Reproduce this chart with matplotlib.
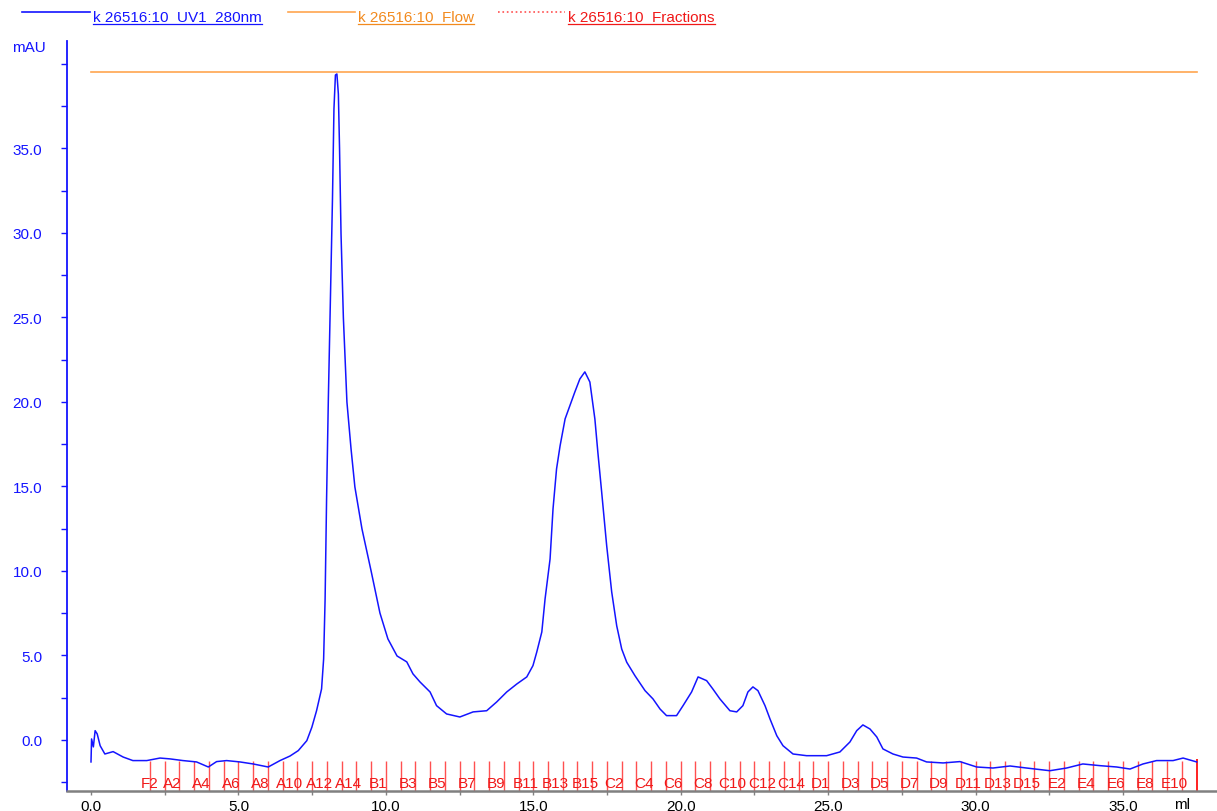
import matplotlib
matplotlib.use("Agg")
import matplotlib.pyplot as plt
from matplotlib.lines import Line2D

plt.rcParams['font.family'] = ['Liberation Sans', 'DejaVu Sans']

# ---------------- data ----------------
uv_ml = [0.00, 0.02, 0.08, 0.14, 0.21, 0.31, 0.47, 0.75, 1.09, 1.42, 1.89, 2.34, 2.68, 3.12,
         3.58, 3.98, 4.26, 4.60, 5.05, 5.50, 6.01, 6.41, 6.75, 7.03, 7.32, 7.49, 7.65, 7.82,
         7.89, 7.94, 7.99, 8.05, 8.12, 8.19, 8.24, 8.29, 8.34, 8.39, 8.43, 8.48, 8.56, 8.68,
         8.82, 8.95, 9.19, 9.50, 9.80, 10.07, 10.38, 10.71, 10.92, 11.16, 11.50, 11.72, 12.06,
         12.51, 12.96, 13.42, 13.76, 14.10, 14.44, 14.78, 14.99, 15.12, 15.29, 15.40, 15.57,
         15.67, 15.79, 15.91, 16.08, 16.24, 16.41, 16.58, 16.75, 16.92, 17.09, 17.19, 17.32,
         17.49, 17.66, 17.83, 18.00, 18.17, 18.45, 18.79, 19.06, 19.30, 19.52, 19.86, 20.08,
         20.37, 20.59, 20.88, 21.09, 21.33, 21.67, 21.90, 22.11, 22.28, 22.45, 22.62, 22.86,
         23.03, 23.26, 23.47, 23.81, 24.27, 24.95, 25.40, 25.74, 25.97, 26.18, 26.42, 26.65,
         26.86, 27.20, 27.54, 28.00, 28.34, 28.90, 29.47, 30.04, 30.59, 31.17, 31.73, 32.52,
         33.09, 33.64, 34.22, 34.79, 35.24, 35.68, 36.14, 36.70, 37.04, 37.50]
uv_mau = [-1.30, 0.06, -0.41, 0.55, 0.36, -0.34, -0.83, -0.69, -1.01, -1.22, -1.22, -1.07,
          -1.12, -1.22, -1.30, -1.60, -1.28, -1.22, -1.30, -1.42, -1.60, -1.22, -0.95, -0.63,
          -0.04, 0.75, 1.73, 3.02, 4.79, 8.34, 14.26, 20.18, 26.09, 32.01, 37.34, 39.35, 39.41,
          38.22, 34.97, 29.94, 24.97, 20.00, 17.22, 14.97, 12.49, 10.00, 7.51, 5.98, 4.97,
          4.62, 3.91, 3.43, 2.84, 2.03, 1.54, 1.36, 1.66, 1.73, 2.25, 2.84, 3.31, 3.73, 4.40,
          5.21, 6.39, 8.34, 10.71, 13.67, 16.04, 17.41, 19.00, 19.78, 20.59, 21.36, 21.78,
          21.18, 18.99, 17.04, 14.67, 11.50, 8.76, 6.76, 5.38, 4.60, 3.80, 2.92, 2.43, 1.83,
          1.44, 1.44, 2.03, 2.84, 3.73, 3.51, 3.02, 2.43, 1.73, 1.66, 2.03, 2.84, 3.14, 2.92,
          2.03, 1.24, 0.25, -0.34, -0.83, -0.93, -0.93, -0.71, -0.12, 0.55, 0.89, 0.65, 0.18,
          -0.53, -0.83, -1.01, -1.07, -1.30, -1.36, -1.28, -1.60, -1.66, -1.54, -1.66, -1.82,
          -1.66, -1.42, -1.52, -1.60, -1.72, -1.42, -1.22, -1.22, -1.07, -1.30]

flow_ml = [0.0, 37.5]
flow_level = [39.5, 39.5]

frac_ml = [2.0, 2.5, 3.0, 3.5, 4.0, 4.5, 5.0, 5.5, 6.0, 6.5, 7.0, 7.5, 8.0, 8.5, 9.0, 9.5,
           10.0, 10.5, 11.0, 11.5, 12.0, 12.5, 13.0, 13.5, 14.0, 14.5, 15.0, 15.5, 16.0, 16.5,
           17.0, 17.5, 18.0, 18.5, 19.0, 19.5, 20.0, 20.5, 21.0, 21.5, 22.0, 22.5, 23.0, 23.5,
           24.0, 24.5, 25.0, 25.5, 26.0, 26.5, 27.0, 27.5, 28.0, 28.5, 29.0, 29.5, 30.0, 30.5,
           31.0, 31.5, 32.0, 32.5, 33.0, 33.5, 34.0, 34.5, 35.0, 35.5, 36.0, 36.5, 37.0]
frac_names = (["F2"] + ["A%d" % i for i in range(1, 16)] + ["B%d" % i for i in range(1, 16)]
              + ["C%d" % i for i in range(1, 16)] + ["D%d" % i for i in range(1, 16)]
              + ["E%d" % i for i in range(1, 11)])
frac_end = 37.5

x_major = [0.0, 5.0, 10.0, 15.0, 20.0, 25.0, 30.0, 35.0]
y_major = [0.0, 5.0, 10.0, 15.0, 20.0, 25.0, 30.0, 35.0]

legend_labels = ["k 26516:10_UV1_280nm", "k 26516:10_Flow", "k 26516:10_Fractions"]

# ---------------- style ----------------
BLUE = "#1414ff"
ORANGE_LINE = "#ffa54f"
ORANGE_TXT = "#f28a1e"
RED_LINE = "#ff5050"
RED_TXT = "#f01818"
GRAY = "#808080"
FS = 11

W, H = 1217, 812
fig = plt.figure(figsize=(W / 100, H / 100), dpi=100)
ax = fig.add_axes([67 / W, 20 / H, 1 - 67 / W, (792 - 42) / H])
ax.set_xlim(-0.814, 38.19)
ax.set_ylim(-3.02, 41.36)

# fractions
ax.vlines(frac_ml, -1.25, -3.02, colors=RED_LINE, lw=1.0, zorder=1)
ax.vlines([frac_end], -1.1, -3.02, colors="#ff2020", lw=1.4, zorder=1)
for k, (pos, name) in enumerate(zip(frac_ml, frac_names)):
    if k % 2:
        continue
    cx = pos if k == 0 else pos - 0.25
    ax.text(cx, -2.78, name, color=RED_TXT, fontsize=FS, ha="center", va="baseline", zorder=3)

# flow
ax.plot(flow_ml, flow_level, color=ORANGE_LINE, lw=1.2, zorder=2)
# UV
ax.plot(uv_ml, uv_mau, color=BLUE, lw=1.1, zorder=4)

# axes styling
for s in ["top", "right"]:
    ax.spines[s].set_visible(False)
ax.spines["left"].set_color(BLUE)
ax.spines["left"].set_linewidth(1.3)
ax.spines["bottom"].set_color(GRAY)
ax.spines["bottom"].set_linewidth(1.8)

y_ticks = [-2.5] + [v * 2.5 for v in range(0, 17)]
ax.set_yticks(y_ticks)
ax.set_yticklabels(["%.1f" % v if v in y_major else "" for v in y_ticks])
ax.tick_params(axis="y", colors=BLUE, labelcolor=BLUE, length=4, width=1, pad=14,
               labelsize=FS)
x_ticks = [v * 2.5 for v in range(0, 15)]
ax.set_xticks(x_ticks)
ax.set_xticklabels(["%.1f" % v if v in x_major else "" for v in x_ticks])
ax.tick_params(axis="x", colors=GRAY, labelcolor="black", length=3, width=1, pad=3,
               labelsize=FS)

ax.text(37.0, -13 / 750, "ml", transform=ax.get_xaxis_transform(), ha="center",
        va="center", fontsize=FS, color="black")
fig.text(12 / W, 1 - 48 / H, "mAU", color=BLUE, fontsize=FS, ha="left", va="center")

# legend (custom, underlined labels)
leg_specs = [
    (22, 90, 93, BLUE, BLUE, "-"),
    (288, 355, 358, ORANGE_LINE, ORANGE_TXT, "-"),
    (498, 565, 568, RED_LINE, RED_TXT, ":"),
]
texts = []
for (x0, x1, tx, lc, tc, ls), lab in zip(leg_specs, legend_labels):
    fig.add_artist(Line2D([x0 / W, x1 / W], [1 - 13 / H, 1 - 13 / H], color=lc, lw=1.2,
                          ls=ls, transform=fig.transFigure))
    t = fig.text(tx / W, 1 - 17 / H, lab, color=tc, fontsize=FS, ha="left", va="center")
    texts.append((t, tc))
fig.canvas.draw()
r = fig.canvas.get_renderer()
for t, tc in texts:
    bb = t.get_window_extent(renderer=r)
    yy = (bb.y0 - 1) / H
    fig.add_artist(Line2D([bb.x0 / W, bb.x1 / W], [yy, yy], color=tc, lw=0.9,
                          transform=fig.transFigure))

fig.savefig("out.png", dpi=100)
